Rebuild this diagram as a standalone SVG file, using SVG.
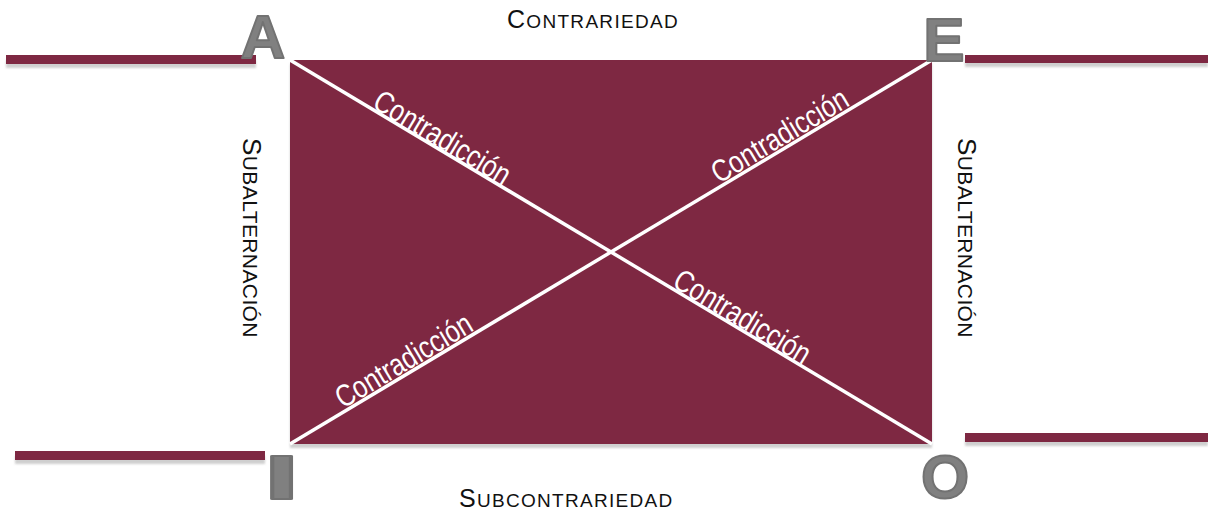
<svg xmlns="http://www.w3.org/2000/svg" width="1208" height="512" viewBox="0 0 1208 512">
<defs>
<filter id="blur" x="-5%" y="-50%" width="110%" height="200%"><feGaussianBlur stdDeviation="1.2"/></filter>
<style>
.bar{fill:#7e2842}
.sh{fill:#cfcfcf;filter:url(#blur)}
.diag{stroke:#ffffff;stroke-width:3.5;fill:none}
.lab{font-family:"Liberation Sans Narrow","Liberation Sans",Arial,sans-serif;font-size:31px;fill:#ffffff}
.cap{font-family:"Liberation Sans",Arial,sans-serif;fill:#111111;letter-spacing:1.3px}
.vcap{font-family:"Liberation Sans",Arial,sans-serif;fill:#111111;letter-spacing:0.4px}
.big{font-size:25px}
.sm{font-size:19px}
.vbig{font-size:26px}
.vsm{font-size:21px}
.let{font-family:"Liberation Sans",Arial,sans-serif;font-weight:bold;font-size:62px;fill:#808080;stroke:#727272;stroke-width:2;stroke-linejoin:round;text-anchor:middle}
</style>
</defs>
<g id="bars">
<rect class="sh" x="6" y="60" width="250" height="8"/>
<rect class="bar" x="6" y="55" width="250" height="9"/>
<rect class="sh" x="965" y="59" width="243" height="8"/>
<rect class="bar" x="965" y="55" width="243" height="8"/>
<rect class="sh" x="15" y="456" width="250" height="8"/>
<rect class="bar" x="15" y="451" width="250" height="9"/>
<rect class="sh" x="965" y="438" width="243" height="8"/>
<rect class="bar" x="965" y="433" width="243" height="9"/>
</g>
<g id="square">
<rect class="sh" x="290" y="64" width="642" height="384"/>
<rect class="bar" x="290" y="60" width="642" height="384"/>
</g>
<g id="connectors">
<line class="diag" x1="290" y1="60" x2="932" y2="444"/>
<line class="diag" x1="290" y1="444" x2="932" y2="60"/>
</g>
<g id="labels">
<text class="lab" transform="translate(371,107) rotate(30.9)" textLength="154" lengthAdjust="spacingAndGlyphs">Contradicción</text>
<text class="lab" transform="translate(671,286) rotate(30.9)" textLength="154" lengthAdjust="spacingAndGlyphs">Contradicción</text>
<text class="lab" transform="translate(719,184) rotate(-30.9)" textLength="154" lengthAdjust="spacingAndGlyphs">Contradicción</text>
<text class="lab" transform="translate(343,409) rotate(-30.9)" textLength="154" lengthAdjust="spacingAndGlyphs">Contradicción</text>
</g>
<g id="contrariedad">
<text class="cap" x="507" y="28"><tspan class="big">C</tspan><tspan class="sm">ONTRARIEDAD</tspan></text>
</g>
<g id="subcontrariedad">
<text class="cap" x="459" y="507"><tspan class="big">S</tspan><tspan class="sm">UBCONTRARIEDAD</tspan></text>
</g>
<g id="subalternacion-left">
<text class="vcap" transform="translate(243,138) rotate(90)"><tspan class="vbig">S</tspan><tspan class="vsm">UBALTERNACIÓN</tspan></text>
</g>
<g id="subalternacion-right">
<text class="vcap" transform="translate(958,138) rotate(90)"><tspan class="vbig">S</tspan><tspan class="vsm">UBALTERNACIÓN</tspan></text>
</g>
<g id="node-A"><text class="let" x="263" y="58">A</text></g>
<g id="node-E"><text class="let" x="944" y="61">E</text></g>
<g id="node-I"><text class="let" transform="translate(281.5,499) scale(2.1,1)" x="0" y="0">I</text></g>
<g id="node-O"><text class="let" x="945" y="498">O</text></g>
</svg>
